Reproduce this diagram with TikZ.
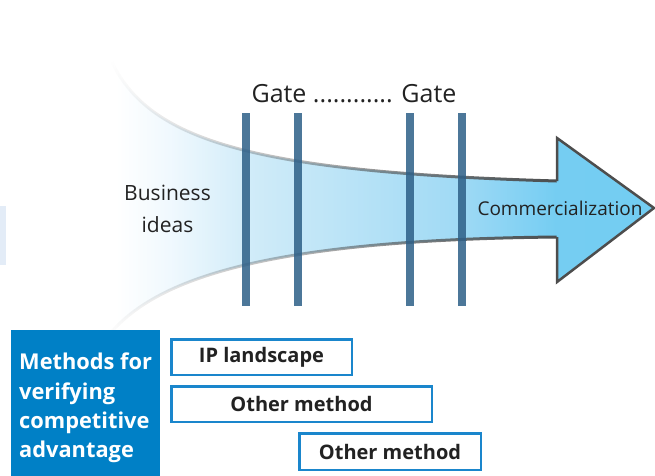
\documentclass[tikz,border=0pt]{standalone}
\usepackage{fontspec}
\setmainfont{Open Sans}
\usetikzlibrary{fadings}
\definecolor{barblue}{HTML}{2D5F87}
\definecolor{boxblue}{HTML}{0080C6}
\definecolor{edgeblue}{HTML}{1A86CC}
\definecolor{txt}{HTML}{222222}
\definecolor{headgray}{HTML}{4D4D4D}
\definecolor{sidebox}{HTML}{E3ECF7}
\pgfdeclarehorizontalshading{funnel}{100bp}{rgb(0bp)=(1,1,1); rgb(26bp)=(1,1,1); rgb(31bp)=(0.94,0.975,0.995); rgb(38bp)=(0.82,0.925,0.975); rgb(57bp)=(0.63,0.855,0.96); rgb(66bp)=(0.46,0.805,0.95); rgb(100bp)=(0.42,0.80,0.95)}
\tikzfading[name=fadeleft, left color=transparent!100, right color=transparent!0]
\tikzset{
  gatebar/.style={fill=barblue, opacity=0.85},
  methodbox/.style={draw=edgeblue, line width=2.5pt, inner sep=0pt, fill=white,
    text=txt, font=\bfseries\fontsize{20}{24}\selectfont},
  edgecurve/.style={headgray, line width=3pt, path fading=fadeleft},
}
\begin{document}
\begin{tikzpicture}[x=1pt, y=-1pt]
\useasboundingbox (0,0) rectangle (655,475);
% side box at left edge
\fill[sidebox] (0,206) rectangle (5.5,265);
% funnel body
\shade[shading=funnel] (112,62) .. controls (150,140) and (250,172) .. (557,180)
  -- (557,138) -- (654,208) -- (557,282) -- (557,238)
  .. controls (260,240) and (150,280) .. (105,340) -- cycle;
% funnel edges
\draw[edgecurve] (112,62) .. controls (150,140) and (250,172) .. (557,181);
\draw[edgecurve] (557,237) .. controls (260,240) and (150,280) .. (105,340);
\draw[headgray, line width=2.5pt, line join=miter] (557,181) -- (557,138) -- (654,208) -- (557,282) -- (557,237);
% gates
\fill[gatebar] (242,113) rectangle (250,306);
\fill[gatebar] (294,113) rectangle (302,306);
\fill[gatebar] (406,113) rectangle (414,306);
\fill[gatebar] (458,113) rectangle (466,306);
% labels
\node[anchor=base, text=txt, font=\fontsize{25}{28}\selectfont, inner sep=0pt] (gates) at (354,102) {Gate ............ Gate};
\node[anchor=base, text=txt, font=\fontsize{21}{32}\selectfont, inner sep=0pt] (business) at (167.5,200.7) {Business};
\node[anchor=base, text=txt, font=\fontsize{21}{32}\selectfont, inner sep=0pt] (ideas) at (167.5,232.7) {ideas};
\node[anchor=base, text=txt, font=\fontsize{19}{24}\selectfont, inner sep=0pt] (comm) at (560,215) {Commercialization};
% methods box
\fill[boxblue] (11,330) rectangle (160,476);
\node[anchor=base west, text=white, font=\bfseries\fontsize{21.8}{29.3}\selectfont, align=left, inner sep=0pt] (methods) at (19,457.7) {Methods for\\verifying\\competitive\\advantage};
\node[methodbox, minimum width=180.5pt, minimum height=35.5pt] (ip) at (261.5,357) {IP landscape};
\node[methodbox, minimum width=260.5pt, minimum height=35.5pt] (other1) at (301.5,404) {Other method};
\node[methodbox, minimum width=181.5pt, minimum height=36.5pt] (other2) at (390,451.5) {Other method};
\end{tikzpicture}
\end{document}
